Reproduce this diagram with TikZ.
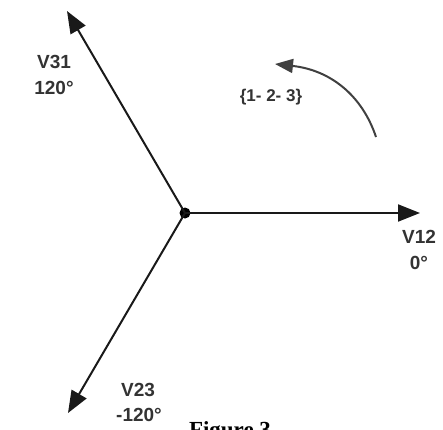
\documentclass[tikz,border=0pt]{standalone}
\usepackage{fontspec}
\setmainfont{Liberation Sans}
\newfontfamily\capfont{Liberation Serif}
\usetikzlibrary{arrows.meta}
\begin{document}
\begin{tikzpicture}[x=1pt,y=-1pt,
  vec/.style={line width=2pt,black!90,-{Triangle[length=22pt,width=17pt]}},
  lbl/.style={font=\fontsize{19}{22}\selectfont\bfseries,text=black!80,inner sep=0pt},
  seq/.style={font=\fontsize{17}{20}\selectfont\bfseries,text=black!80,inner sep=0pt}]
\useasboundingbox (0,0) rectangle (443,429);
\clip (0,0) rectangle (443,429);
\node[circle,fill=black,inner sep=0pt,minimum size=11pt] (o) at (185,213) {};
\coordinate (t12) at (420,213);
\coordinate (t31) at (67,11);
\coordinate (t23) at (68,413);
\draw[vec] (o.center) -- (t12);
\draw[vec] (o.center) -- (t31);
\draw[vec] (o.center) -- (t23);
\node[lbl] (v31) at (54,62) {V31};
\node[lbl] (a31) at (54,88) {120°};
\node[lbl] (v12) at (419,237) {V12};
\node[lbl] (a12) at (419,263) {0°};
\node[lbl] (v23) at (138,390) {V23};
\node[lbl] (a23) at (139,415) {-120°};
\node[seq] (s) at (271,97) {\{1- 2- 3\}};
\coordinate (r0) at (376,137);
\coordinate (r1) at (275,64);
\draw[line width=2pt,black!75,-{Triangle[length=18pt,width=14pt]}] (r0) .. controls (362,95) and (330,70) .. (r1);
\node[font=\capfont\fontsize{23}{26}\selectfont\bfseries,anchor=north,inner sep=0pt] (fig) at (230,421) {Figure 3};
\end{tikzpicture}
\end{document}
